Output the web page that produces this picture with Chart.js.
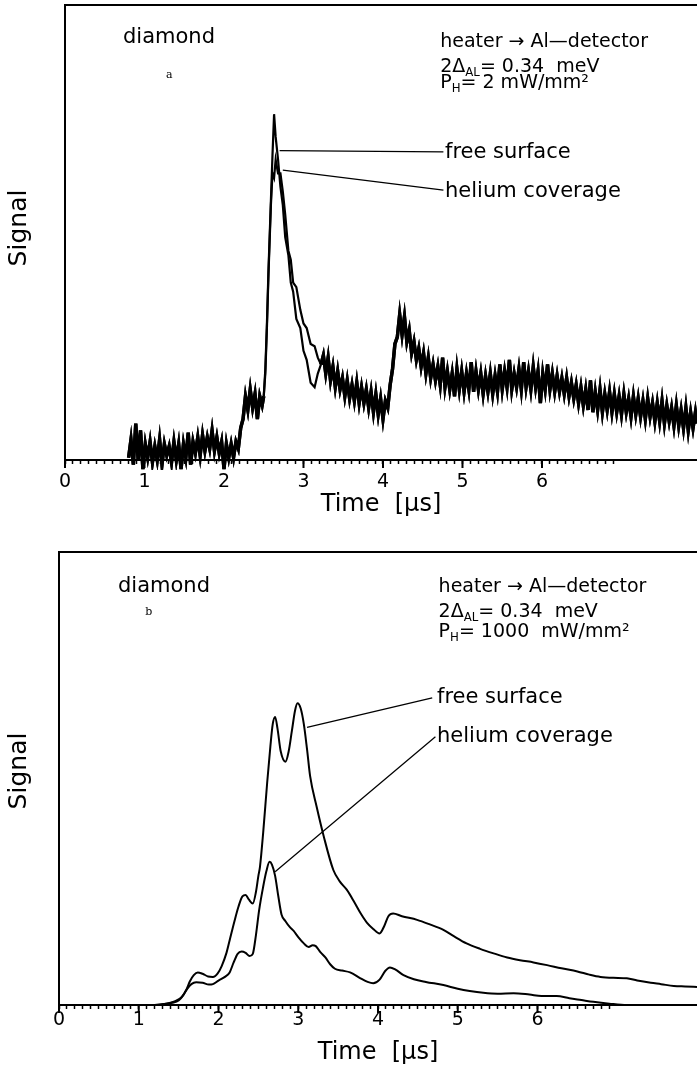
<!DOCTYPE html>
<html>
<head>
<meta charset="utf-8">
<script src="https://cdn.jsdelivr.net/npm/chart.js@4.4.0/dist/chart.umd.min.js"></script>
<style>
  html, body { margin: 0; padding: 0; background: #fff; }
  #wrap { position: relative; width: 697px; height: 1070px; }
  canvas { position: absolute; left: 0; }
  #chartA { top: 0; }
  #chartB { top: 535px; }
</style>
</head>
<body>
<div id="wrap">
  <canvas id="chartA" width="697" height="535"></canvas>
  <canvas id="chartB" width="697" height="535"></canvas>
</div>
<script>
'use strict'

// panel a: 2 mW/mm2, noisy traces (time in us, signal in arbitrary units 0..100)
let aTimeRise = [0.80, 0.83, 0.86, 0.89, 0.92, 0.95, 0.98,
  1.01, 1.04, 1.07, 1.10, 1.13, 1.16, 1.19, 1.22, 1.25, 1.28,
  1.31, 1.34, 1.37, 1.40, 1.43, 1.46, 1.49, 1.52, 1.55, 1.58,
  1.61, 1.64, 1.67, 1.70, 1.73, 1.76, 1.79, 1.82, 1.85, 1.88,
  1.91, 1.94, 1.97, 2.00, 2.03, 2.06, 2.09, 2.12, 2.15, 2.18,
  2.21, 2.24, 2.27, 2.30, 2.33, 2.36, 2.39, 2.42, 2.45, 2.48]
let aRise = [0.5, 4.5, -1.0, 8.0, 0.0, 6.5, -2.0,
  3.5, 0.5, 4.0, -0.5, 3.0, 0.0, 4.5, -1.0, 3.5, 1.0,
  3.0, -0.5, 4.0, 0.0, 3.5, -2.0, 3.5, 0.5, 6.0, -1.0,
  4.0, 1.5, 5.0, 1.0, 5.5, 2.0, 5.0, 2.5, 6.5, 2.0,
  5.0, 1.5, 4.0, -2.0, 3.5, 0.5, 3.5, 0.5, 4.0, 2.5,
  7.0, 9.0, 14.0, 11.0, 15.5, 11.5, 14.5, 9.0, 14.0, 12.0]

let aTimePeak = [2.50, 2.52, 2.54, 2.56, 2.59, 2.61, 2.63, 2.65, 2.68, 2.71, 2.74,
  2.77, 2.81, 2.84, 2.87, 2.91, 2.96, 3.00, 3.04, 3.09, 3.14, 3.18, 3.22]
let aFreePeak = [14, 20, 30, 42, 57, 67, 76, 71, 66, 60, 56,
  49, 45, 39, 37, 31, 29, 24, 22, 17, 16, 19, 21]
let aHeliumPeak = [14, 19, 29, 41, 56, 63, 62, 66, 63, 63, 59,
  54, 46, 44, 39, 38, 33, 30, 29, 25.5, 25, 22.5, 21]

let aTimeTail = [3.25, 3.28, 3.31, 3.34, 3.37, 3.40, 3.43, 3.46, 3.49, 3.52,
  3.55, 3.58, 3.61, 3.64, 3.67, 3.70, 3.73, 3.76, 3.79, 3.82,
  3.85, 3.88, 3.91, 3.94, 3.97, 4.00, 4.03, 4.06, 4.09, 4.12,
  4.15, 4.18, 4.21, 4.24, 4.27, 4.30, 4.33, 4.36, 4.39, 4.42,
  4.45, 4.48, 4.51, 4.54, 4.57, 4.60, 4.63, 4.66, 4.69, 4.72,
  4.75, 4.78, 4.81, 4.84, 4.87, 4.90, 4.93, 4.96, 4.99, 5.02,
  5.05, 5.08, 5.11, 5.14, 5.17, 5.20, 5.23, 5.26, 5.29, 5.32,
  5.35, 5.38, 5.41, 5.44, 5.47, 5.50, 5.53, 5.56, 5.59, 5.62,
  5.65, 5.68, 5.71, 5.74, 5.77, 5.80, 5.83, 5.86, 5.89, 5.92,
  5.95, 5.98, 6.01, 6.04, 6.07, 6.10, 6.13, 6.16, 6.19, 6.22,
  6.25, 6.28, 6.31, 6.34, 6.37, 6.40, 6.43, 6.46, 6.49, 6.52,
  6.55, 6.58, 6.61, 6.64, 6.67, 6.70, 6.73, 6.76, 6.79, 6.82,
  6.85, 6.88, 6.91, 6.94, 6.97, 7.00, 7.03, 7.06, 7.09, 7.12,
  7.15, 7.18, 7.21, 7.24, 7.27, 7.30, 7.33, 7.36, 7.39, 7.42,
  7.45, 7.48, 7.51, 7.54, 7.57, 7.60, 7.63, 7.66, 7.69, 7.72,
  7.75, 7.78, 7.81, 7.84, 7.87, 7.90, 7.93, 7.95]
let aTail = [23.0, 19.0, 22.5, 17.5, 20.5, 16.0, 19.5, 15.5, 18.0, 14.0,
  17.5, 13.5, 16.5, 13.0, 17.0, 12.5, 16.0, 12.5, 15.5, 11.5,
  15.0, 10.5, 14.5, 10.0, 13.5, 9.0, 13.0, 11.5, 16.5, 20.0,
  25.5, 27.0, 32.0, 27.5, 31.5, 26.0, 28.5, 23.5, 26.0, 22.0,
  24.5, 20.5, 23.5, 19.0, 22.5, 18.0, 21.0, 17.5, 20.5, 16.5,
  22.5, 16.0, 19.5, 15.5, 19.0, 14.0, 20.0, 15.5, 19.5, 15.0,
  19.0, 15.5, 21.5, 15.0, 19.5, 15.5, 19.0, 14.5, 18.5, 15.0,
  19.0, 14.5, 18.5, 15.0, 21.0, 15.5, 19.5, 16.0, 22.0, 15.5,
  19.0, 16.0, 20.0, 15.5, 21.5, 16.0, 19.5, 15.5, 20.5, 16.0,
  19.5, 12.5, 19.0, 15.5, 21.0, 15.5, 19.0, 15.0, 18.5, 15.0,
  18.0, 14.5, 18.0, 14.0, 17.0, 13.5, 16.5, 12.5, 16.0, 12.0,
  15.5, 11.0, 17.5, 10.5, 15.0, 11.0, 15.5, 10.5, 14.5, 11.0,
  15.0, 10.5, 14.5, 10.5, 14.0, 10.0, 14.5, 10.5, 13.5, 9.5,
  14.0, 10.0, 13.5, 9.5, 13.0, 9.0, 13.5, 9.5, 12.5, 8.5,
  12.5, 8.5, 13.0, 8.0, 12.0, 8.5, 11.5, 7.5, 12.0, 7.5,
  11.0, 7.0, 11.5, 6.5, 10.5, 7.0, 10.5, 8.0]

// panel b: 1000 mW/mm2, smooth traces
let bFreeTime = [0.00, 1.20, 1.35, 1.45, 1.54, 1.60, 1.64, 1.69, 1.74, 1.80,
  1.87, 1.93, 1.99, 2.04, 2.10, 2.14, 2.20, 2.25, 2.30, 2.34,
  2.38, 2.43, 2.47, 2.50, 2.52, 2.56, 2.61, 2.65, 2.68, 2.71,
  2.74, 2.78, 2.84, 2.88, 2.92, 2.96, 2.99, 3.03, 3.07, 3.11,
  3.15, 3.23, 3.32, 3.44, 3.52, 3.61, 3.70, 3.78, 3.86, 3.94,
  4.02, 4.08, 4.13, 4.19, 4.30, 4.49, 4.65, 4.82, 4.95, 5.11,
  5.28, 5.45, 5.62, 5.78, 5.95, 6.12, 6.30, 6.50, 6.65, 6.79,
  6.95, 7.12, 7.25, 7.42, 7.55, 7.71, 7.85, 8.00]
let bFree = [0, 0, 0.3, 0.8, 1.8, 3.5, 5.2, 6.6, 7.2, 6.9,
  6.3, 6.2, 7.0, 8.6, 11.5, 14.3, 18.5, 21.7, 24.0, 24.3,
  23.3, 22.4, 25.0, 28.5, 30.5, 38.0, 49.0, 57.0, 62.0, 63.6,
  61.0, 56.0, 53.7, 56.0, 60.5, 65.0, 66.6, 65.5, 62.0, 56.5,
  50.4, 43.8, 37.2, 29.8, 27.3, 25.4, 22.8, 20.3, 18.2, 16.8,
  15.8, 17.5, 19.6, 20.2, 19.6, 18.8, 17.8, 16.6, 15.2, 13.6,
  12.4, 11.4, 10.5, 9.9, 9.4, 8.8, 8.1, 7.4, 6.7, 6.2,
  6.0, 5.9, 5.4, 4.9, 4.6, 4.2, 4.1, 4.0]

let bHeliumTime = [0.00, 1.20, 1.31, 1.42, 1.50, 1.56, 1.61, 1.66, 1.72, 1.80,
  1.88, 1.93, 2.00, 2.08, 2.14, 2.19, 2.24, 2.29, 2.34, 2.39,
  2.43, 2.47, 2.51, 2.56, 2.60, 2.64, 2.67, 2.71, 2.75, 2.79,
  2.84, 2.89, 2.94, 3.00, 3.07, 3.13, 3.18, 3.22, 3.28, 3.34,
  3.40, 3.46, 3.55, 3.65, 3.78, 3.87, 3.94, 4.02, 4.09, 4.15,
  4.22, 4.32, 4.45, 4.60, 4.82, 5.00, 5.15, 5.32, 5.50, 5.70,
  5.90, 6.05, 6.24, 6.40, 6.55, 6.70, 6.90, 7.12, 8.00]
let bHelium = [0, 0, 0.2, 0.5, 1.0, 2.2, 3.6, 4.6, 5.0, 4.9,
  4.5, 4.6, 5.4, 6.2, 7.2, 9.4, 11.3, 11.8, 11.5, 10.8,
  11.3, 15.5, 21.0, 26.1, 29.5, 31.6, 31.0, 28.5, 24.0, 20.0,
  18.5, 17.3, 16.4, 15.0, 13.6, 12.8, 13.2, 13.0, 11.6, 10.5,
  9.0, 8.0, 7.6, 7.2, 5.9, 5.1, 4.8, 5.6, 7.5, 8.3,
  7.8, 6.6, 5.7, 5.1, 4.4, 3.6, 3.1, 2.7, 2.5, 2.6,
  2.3, 2.0, 2.0, 1.5, 1.1, 0.7, 0.3, 0.0, 0.0]

let tickLabels = ['0', '1', '2', '3', '4', '5', '6']

let aFree = aRise.concat(aFreePeak, aTail)
let aHelium = aRise.concat(aHeliumPeak, aTail)
let aTime = aTimeRise.concat(aTimePeak, aTimeTail)

function toPoints(xs, ys) {
  return xs.map(function (x, i) { return { x: x, y: ys[i] } })
}

function tickLabel(value) {
  let r = Math.round(value)
  if (Math.abs(value - r) < 1e-6 && r < tickLabels.length) return tickLabels[r]
  return ''
}

// the noisy band is drawn heavier than the separated peak traces
function bandWidth(c) {
  let t = c.p0.parsed.x
  return (t >= 2.5 && t < 3.22) ? 2.2 : 3.4
}

function drawRich(ctx, x, y, parts, size) {
  parts.forEach(function (p) {
    let s = p.sub ? size * 0.62 : size
    ctx.font = s + 'px "DejaVu Sans"'
    ctx.fillText(p.text, x, p.sub ? y + size * 0.22 : y)
    x += ctx.measureText(p.text).width
  })
}

function notesPlugin(notes) {
  return {
    id: 'notes',
    afterDatasetsDraw(chart) {
      let ctx = chart.ctx
      let xs = chart.scales.x
      let ys = chart.scales.y
      ctx.save()
      ctx.strokeStyle = '#000'
      ctx.lineWidth = 1.3
      notes.leaders.forEach(function (l) {
        ctx.beginPath()
        ctx.moveTo(xs.getPixelForValue(l[0]), ys.getPixelForValue(l[1]))
        ctx.lineTo(xs.getPixelForValue(l[2]), ys.getPixelForValue(l[3]))
        ctx.stroke()
      })
      ctx.fillStyle = '#000'
      ctx.textAlign = 'left'
      ctx.textBaseline = 'alphabetic'
      notes.texts.forEach(function (n) {
        let x = xs.getPixelForValue(n.t)
        let y = ys.getPixelForValue(n.v)
        if (n.parts) {
          drawRich(ctx, x, y, n.parts, n.size)
        } else {
          ctx.font = n.font
          ctx.fillText(n.text, x, y)
        }
      })
      // major ticks are longer than the 0.1 us ticks
      ctx.lineWidth = 2
      let yb = chart.chartArea.bottom
      for (let i = 0; i < tickLabels.length; i++) {
        let xp = xs.getPixelForValue(i)
        ctx.beginPath()
        ctx.moveTo(xp, yb)
        ctx.lineTo(xp, yb + 8)
        ctx.stroke()
      }
      ctx.translate(notes.signal[0], notes.signal[1])
      ctx.rotate(-Math.PI / 2)
      ctx.textAlign = 'center'
      ctx.textBaseline = 'middle'
      ctx.font = '25px "DejaVu Sans"'
      ctx.fillText('Signal', 0, 0)
      ctx.restore()
    }
  }
}

function makeChart(id, o) {
  return new Chart(document.getElementById(id), {
    type: 'line',
    data: { datasets: o.datasets },
    options: {
      responsive: false,
      animation: false,
      devicePixelRatio: 1,
      layout: { padding: o.padding },
      plugins: { legend: { display: false }, tooltip: { enabled: false } },
      elements: { point: { radius: 0 } },
      scales: {
        x: {
          type: 'linear', position: 'bottom', min: 0, max: o.xMax,
          ticks: {
            stepSize: 0.1, autoSkip: false, maxRotation: 0, padding: o.labelPad,
            color: '#000', font: { family: 'DejaVu Sans', size: 19 }, callback: tickLabel
          },
          grid: {
            display: true, drawOnChartArea: false, drawTicks: true, tickLength: 4, tickWidth: 1.5,
            tickColor: function (c) { return c.tick && c.tick.value <= 6.91 ? '#000' : 'rgba(0,0,0,0)' }
          },
          border: { display: true, color: '#000', width: 2 },
          title: {
            display: true, text: 'Time  [µs]', color: '#000',
            font: { family: 'DejaVu Sans', size: 24 }, padding: { top: 0, bottom: o.titlePad }
          },
          afterFit: function (s) {
            s.height = o.xHeight
            s.paddingLeft = 0
            s.paddingRight = 0
          }
        },
        top: {
          type: 'linear', axis: 'x', position: 'top', min: 0, max: o.xMax,
          ticks: { display: false }, grid: { display: false },
          border: { display: true, color: '#000', width: 2 },
          afterFit: function (s) { s.height = 0 }
        },
        y: {
          min: 0, max: 100,
          ticks: { display: false }, grid: { display: false },
          border: { display: true, color: '#000', width: 2 },
          afterFit: function (s) { s.width = 0 }
        }
      }
    },
    plugins: [notesPlugin(o.notes)]
  })
}

Chart.defaults.font.family = 'DejaVu Sans'

makeChart('chartA', {
  padding: { left: 65, top: 5, right: 0, bottom: 0 },
  xMax: 7.95, xHeight: 75, labelPad: 7, titlePad: 16,
  datasets: [
    { label: 'helium coverage', data: toPoints(aTime, aHelium), borderColor: '#000', borderWidth: 2.4, tension: 0, clip: 10, segment: { borderWidth: bandWidth } },
    { label: 'free surface', data: toPoints(aTime, aFree), borderColor: '#000', borderWidth: 2.2, tension: 0, clip: 10, segment: { borderWidth: bandWidth } }
  ],
  notes: {
    signal: [19, 228],
    leaders: [[2.70, 68.0, 4.76, 67.7], [2.74, 63.7, 4.76, 59.3]],
    texts: [
      { text: 'diamond', t: 0.73, v: 91.6, font: '21px "DejaVu Sans"' },
      { text: 'a', t: 1.27, v: 84.0, font: '11px "DejaVu Serif"' },
      { text: 'heater → Al—detector', t: 4.72, v: 90.8, font: '19px "DejaVu Sans"' },
      { parts: [{ text: '2Δ' }, { text: 'AL', sub: true }, { text: '= 0.34  meV' }], t: 4.72, v: 85.3, size: 19 },
      { parts: [{ text: 'P' }, { text: 'H', sub: true }, { text: '= 2 mW/mm²' }], t: 4.72, v: 81.8, size: 19 },
      { text: 'free surface', t: 4.78, v: 66.4, font: '21px "DejaVu Sans"' },
      { text: 'helium coverage', t: 4.78, v: 57.8, font: '21px "DejaVu Sans"' }
    ]
  }
})

makeChart('chartB', {
  padding: { left: 59, top: 17, right: 0, bottom: 0 },
  xMax: 8.0, xHeight: 65, labelPad: 0, titlePad: 3,
  datasets: [
    { label: 'free surface', data: toPoints(bFreeTime, bFree), borderColor: '#000', borderWidth: 2, cubicInterpolationMode: 'monotone' },
    { label: 'helium coverage', data: toPoints(bHeliumTime, bHelium), borderColor: '#000', borderWidth: 2, cubicInterpolationMode: 'monotone' }
  ],
  notes: {
    signal: [19, 236],
    leaders: [[3.11, 61.3, 4.68, 67.8], [2.71, 29.4, 4.72, 59.2]],
    texts: [
      { text: 'diamond', t: 0.74, v: 91.2, font: '21px "DejaVu Sans"' },
      { text: 'b', t: 1.08, v: 86.1, font: '11px "DejaVu Serif"' },
      { text: 'heater → Al—detector', t: 4.76, v: 91.2, font: '19px "DejaVu Sans"' },
      { parts: [{ text: '2Δ' }, { text: 'AL', sub: true }, { text: '= 0.34  meV' }], t: 4.76, v: 85.7, size: 19 },
      { parts: [{ text: 'P' }, { text: 'H', sub: true }, { text: '= 1000  mW/mm²' }], t: 4.76, v: 81.2, size: 19 },
      { text: 'free surface', t: 4.74, v: 66.7, font: '21px "DejaVu Sans"' },
      { text: 'helium coverage', t: 4.74, v: 58.1, font: '21px "DejaVu Sans"' }
    ]
  }
})
</script>
</body>
</html>
